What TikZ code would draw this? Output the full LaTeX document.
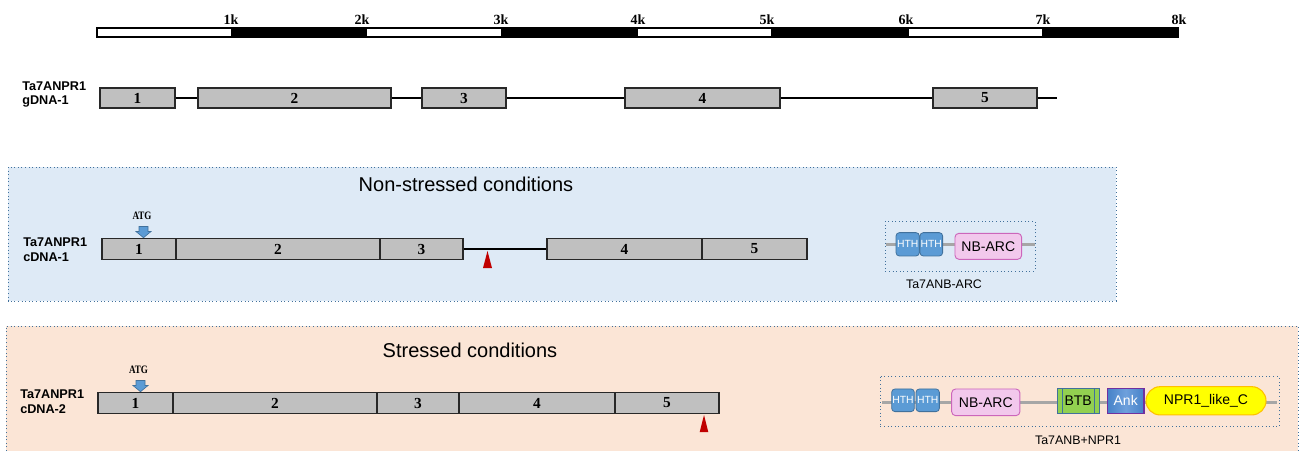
\documentclass[tikz,border=0pt]{standalone}
\usepackage{fontspec}
\usepackage{graphicx}
\newfontfamily\arial{Liberation Sans}
\newfontfamily\tnr{Liberation Serif}
\usetikzlibrary{shapes.misc}
\definecolor{exfill}{RGB}{192,192,192}
\definecolor{exdraw}{RGB}{40,40,40}
\definecolor{bluebg}{RGB}{222,234,246}
\definecolor{bluebd}{RGB}{65,113,156}
\definecolor{peachbg}{RGB}{251,229,214}
\definecolor{hthfill}{RGB}{91,155,213}
\definecolor{hthdraw}{RGB}{65,113,156}
\definecolor{nbfill}{RGB}{242,200,236}
\definecolor{nbdraw}{RGB}{204,102,187}
\definecolor{btbfill}{RGB}{146,208,80}
\definecolor{ankdraw}{RGB}{112,48,160}
\definecolor{ankfill}{RGB}{70,130,200}
\definecolor{ankmid}{RGB}{110,160,220}
\definecolor{nprfill}{RGB}{255,255,0}
\definecolor{nprdraw}{RGB}{255,192,0}
\definecolor{linegray}{RGB}{166,166,166}
\definecolor{tricol}{RGB}{192,0,0}
\newcommand\exonbox[6]{\node[exon, minimum width={(#3-#2)*0.75pt}, minimum height={#5*0.75pt}] (#1) at ({(#2+#3)/2},#4) {#6};}
\newcommand\atgarrow[3]{\path[atgarr] ({#1-4.5},#2) -- ({#1+4.5},#2) -- ({#1+4.5},{#2+5}) -- ({#1+7.5},{#2+5}) -- (#1,#3) -- ({#1-7.5},{#2+5}) -- ({#1-4.5},{#2+5}) -- cycle;}
\begin{document}
\begin{tikzpicture}[x=0.75pt,y=-0.75pt,
  exon/.style={draw=exdraw, fill=exfill, line width=1pt, inner sep=0pt, font=\tnr\bfseries\fontsize{11.5}{11.5}\selectfont},
  scalelab/.style={font=\tnr\bfseries\fontsize{10.5}{10.5}\selectfont, inner sep=0pt},
  rowlab/.style={font=\arial\bfseries\fontsize{9.5}{11}\selectfont, align=left, anchor=west, inner sep=0pt},
  title/.style={font=\arial\fontsize{15}{15}\selectfont, inner sep=0pt},
  atglab/.style={font=\tnr\bfseries\fontsize{8.5}{8.5}\selectfont, inner sep=0pt},
  atgarr/.style={fill=hthfill, draw=hthdraw, line width=0.5pt},
  intron/.style={draw=black, line width=1pt},
  intronthick/.style={draw=black, line width=1.8pt},
  tri/.style={fill=tricol},
  dombox/.style={draw=bluebd, dotted, line width=0.7pt},
  domline/.style={draw=linegray, line width=2.2pt},
  hth/.style={fill=hthfill, draw=hthdraw, line width=0.6pt, rounded corners=2.5pt, inner sep=0pt, text=white, font=\arial\fontsize{7.8}{7.8}\selectfont},
  nbarc/.style={fill=nbfill, draw=nbdraw, line width=0.7pt, rounded corners=3pt, inner sep=0pt, font=\arial\fontsize{10.5}{10.5}\selectfont},
  btb/.style={fill=btbfill, draw=hthdraw, line width=0.7pt, inner sep=0pt, font=\arial\fontsize{10.5}{10.5}\selectfont},
  ank/.style={left color=ankfill, right color=ankfill, middle color=ankmid, draw=ankdraw, line width=1pt, inner sep=0pt, text=white, font=\arial\fontsize{10.5}{10.5}\selectfont},
  npr/.style={rounded rectangle, fill=nprfill, draw=nprdraw, line width=0.8pt, inner sep=0pt, font=\arial\fontsize{10.5}{10.5}\selectfont},
  domlab/.style={font=\arial\fontsize{9.3}{9.3}\selectfont, inner sep=0pt}
]
\useasboundingbox (0,0) rectangle (1300,451);
\fill[white] (0,0) rectangle (1300,451);

% backgrounds
\fill[bluebg] (8,167) rectangle (1116,301);
\draw[dombox] (8,167) rectangle (1116,301);
\fill[peachbg] (6,326) rectangle (1298,451);
\draw[dombox] (6,451) -- (6,326) -- (1298,326) -- (1298,451);

% scale bar
\foreach \a/\b/\c in {97/232/white,232/366/black,366/502/white,502/637/black,637/772/white,772/908/black,908/1043/white,1043/1178/black}{
  \filldraw[fill=\c, draw=black, line width=0.8pt] (\a,28) rectangle (\b,37);
}
\foreach \x/\t in {231/1k,362/2k,501/3k,638/4k,767/5k,906/6k,1043/7k,1179/8k}{
  \node[scalelab] (s\t) at (\x,20) {\t};
}

% gDNA-1
\node[rowlab] (lg) at (22,94.5) {Ta7ANPR1\\gDNA-1};
\exonbox{g1}{100}{175}{98}{20}{1}
\exonbox{g2}{198}{391}{98}{20}{2}
\exonbox{g3}{422}{506}{98}{20}{3}
\exonbox{g4}{625}{780}{98}{20}{4}
\exonbox{g5}{933}{1037}{98}{20}{5}
\coordinate (gend) at (1057,98);
\draw[intron] (g1.east) -- (g2.west);
\draw[intron] (g2.east) -- (g3.west);
\draw[intron] (g3.east) -- (g4.west);
\draw[intron] (g4.east) -- (g5.west);
\draw[intron] (g5.east) -- (gend);

% non-stressed
\node[title] (t1) at (466,184) {Non-stressed conditions};
\node[rowlab] (lc1) at (23,249.5) {Ta7ANPR1\\cDNA-1};
\exonbox{c1}{102}{176}{249}{21}{1}
\exonbox{c2}{176}{380}{249}{21}{2}
\exonbox{c3}{380}{463}{249}{21}{3}
\exonbox{c4}{547}{702}{249}{21}{4}
\exonbox{c5}{702}{807}{249}{21}{5}
\draw[intronthick] (c3.east) -- (c4.west);
\node[atglab] (atg1) at (142,216) {\scalebox{0.8}[1]{ATG}};
\atgarrow{143.5}{226.5}{237.7}
\fill[tri] (487.5,251) -- (492,268) -- (483,268) -- cycle;

% domains 1
\draw[dombox] (885,221) rectangle (1035,271);
\coordinate (d1a) at (886,244.3);
\coordinate (d1b) at (1035,244.3);
\draw[domline] (d1a) -- (d1b);
\node[hth, minimum width=17.5pt, minimum height=17.5pt] (h1a) at (907.7,244.3) {HTH};
\node[hth, minimum width=17pt, minimum height=17.5pt] (h1b) at (931.3,244.3) {HTH};
\node[nbarc, minimum width=50pt, minimum height=19.5pt] (nb1) at (988.3,246.3) {NB-ARC};
\node[domlab] (dl1) at (944,284) {Ta7ANB-ARC};

% stressed
\node[title] (t2) at (470,350) {Stressed conditions};
\node[rowlab] (lc2) at (20,402) {Ta7ANPR1\\cDNA-2};
\exonbox{e1}{98}{173}{403}{20.5}{1}
\exonbox{e2}{173}{377}{403}{20.5}{2}
\exonbox{e3}{377}{459}{403}{20.5}{3}
\exonbox{e4}{459}{615}{403}{20.5}{4}
\exonbox{e5}{615}{719}{403}{20.5}{5}
\node[atglab] (atg2) at (138.5,370) {\scalebox{0.8}[1]{ATG}};
\atgarrow{140.5}{380.5}{391.7}
\fill[tri] (704,415) -- (708.3,432) -- (699.7,432) -- cycle;

% domains 2
\draw[dombox] (880,376.7) rectangle (1279,426.7);
\coordinate (d2a) at (882,402.7);
\coordinate (d2b) at (1277,402.7);
\draw[domline] (d2a) -- (d2b);
\node[hth, minimum width=17pt, minimum height=17pt] (h2a) at (903,400.3) {HTH};
\node[hth, minimum width=17.5pt, minimum height=17pt] (h2b) at (927.7,400.3) {HTH};
\node[nbarc, minimum width=51.2pt, minimum height=20pt] (nb2) at (985.8,402.3) {NB-ARC};
\node[btb, minimum width=31.3pt, minimum height=18.8pt] (btb) at (1078.2,400.8) {BTB};
\draw[hthdraw, line width=0.7pt] (1062.7,388.3) -- (1062.7,413.3) (1094,388.3) -- (1094,413.3);
\node[ank, minimum width=27.5pt, minimum height=18.8pt] (ank) at (1125.7,400.8) {Ank};
\node[npr, minimum width=90pt, minimum height=21.2pt] (npr) at (1206,400.8) {NPR1\_like\_C};
\node[domlab] (dl2) at (1078,440) {Ta7ANB+NPR1};
\end{tikzpicture}
\end{document}
